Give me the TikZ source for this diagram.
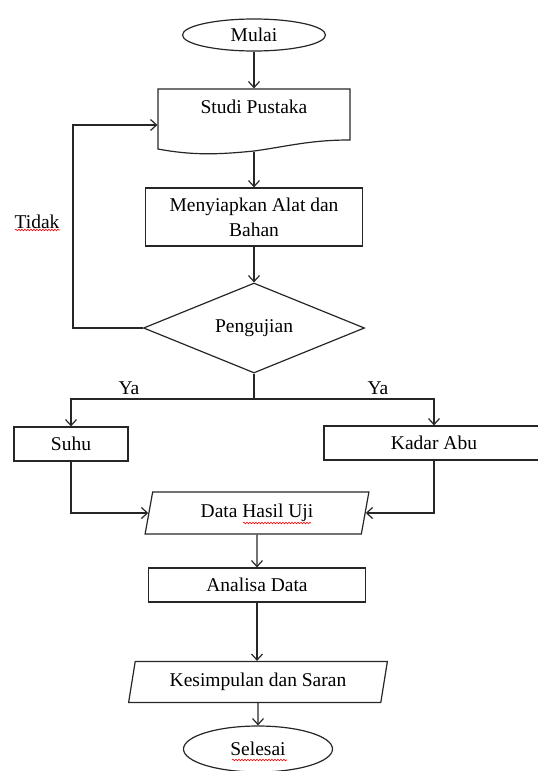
\documentclass[tikz,border=0pt]{standalone}
\usepackage{fontspec}
\setmainfont{Liberation Serif}
\usetikzlibrary{shapes.geometric, arrows.meta, decorations.pathmorphing}

\begin{document}
\begin{tikzpicture}[x=1pt, y=-1pt, line width=1.2pt, draw=black!85,
    >={Straight Barb[length=6pt, width=11pt]},
    every node/.style={font=\fontsize{19.5}{25}\selectfont},
    prosesBox/.style={draw, rectangle, inner sep=0pt, minimum height=34pt},
    terminal/.style={draw, ellipse, inner sep=0pt},
    dataBox/.style={draw, trapezium, trapezium stretches=true, inner sep=0pt},
    spellErr/.style={red, line width=0.6pt, decorate,
      decoration={snake, amplitude=0.8pt, segment length=3pt}}]
    \useasboundingbox (0,0) rectangle (538,771);
    \node[terminal, minimum width=143pt, minimum height=32pt] (mulai) at (254,35) {Mulai};
    \node[inner sep=0pt, minimum width=192pt, minimum height=62pt,
      text height=13pt, text depth=27pt] (studiPustaka) at (254,120) {Studi Pustaka};
    \draw (350,140) -- (350,89) -- (158,89) -- (158,149)
      .. controls (190,155) and (215,155) .. (254,151)
      .. controls (290,146) and (310,140) .. cycle;
    \node[prosesBox, align=center, minimum width=217pt, minimum height=58pt] (siapkan) at (254,217) {Menyiapkan Alat dan\\Bahan};
    \node[draw, diamond, aspect=2.4, inner sep=0pt, minimum width=221pt, minimum height=90pt] (pengujian) at (254,328) {Pengujian};
    \node[prosesBox, minimum width=114pt] (suhu) at (71,444) {Suhu};
    \node[prosesBox, minimum width=220pt] (kadarAbu) at (434,443) {Kadar Abu};
    \node[dataBox, trapezium left angle=77, trapezium right angle=103,
      minimum width=224pt, minimum height=42pt] (dataHasil) at (257,513) {Data Hasil Uji};
    \node[prosesBox, minimum width=217pt] (analisa) at (257,585) {Analisa Data};
    \node[dataBox, trapezium left angle=75, trapezium right angle=105,
      minimum width=259pt, minimum height=41pt] (kesimpulan) at (258,682) {Kesimpulan dan Saran};
    \node[terminal, minimum width=149pt, minimum height=46pt] (selesai) at (258,749) {Selesai};
    \node (tidak) at (37,222) {Tidak};
    \node (yaKiri) at (129,388) {Ya};
    \node (yaKanan) at (378,388) {Ya};
    \coordinate (kiri) at (73,328);
    \coordinate (cabang) at (254,399);
    \draw[->] (mulai) -- (studiPustaka);
    \draw[->] (studiPustaka) -- (siapkan);
    \draw[->] (siapkan) -- (pengujian);
    \draw[->] (pengujian) -- (kiri) |- ([yshift=-5pt]studiPustaka.west);
    \draw (pengujian) -- (cabang);
    \draw[->] (cabang) -| (suhu);
    \draw[->] (cabang) -| (kadarAbu);
    \draw[->] (suhu) |- (dataHasil);
    \draw[->] (kadarAbu) |- (dataHasil);
    \draw[->] (dataHasil) -- (analisa);
    \draw[->] (analisa) -- (analisa |- kesimpulan.north);
    \draw[->] (kesimpulan) -- (selesai);
    \draw[spellErr] (15,230) -- (60,230);
    \draw[spellErr] (243,523) -- (311,523);
    \draw[spellErr] (232,760) -- (287,760);
\end{tikzpicture}
\end{document}
